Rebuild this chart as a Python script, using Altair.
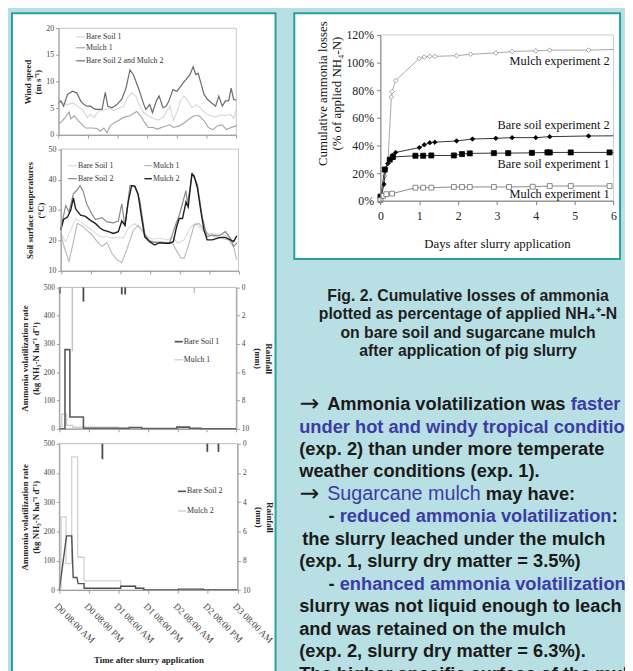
import json
import altair as alt
import pandas as pd

W, H = 625, 663
BG = "#b8dfe3"
TEAL = "#2b9f9f"
BLUE = "#3c3ca6"
INK = "#1a1a1a"
SERIF = "Liberation Serif"
SANS = "Liberation Sans"

# ---------------- data ----------------
HOUR_TICKS = [0, 12, 24, 36, 48, 60, 72]
TIME_LABELS = ["D0 08:00 AM", "D0 08:00 PM", "D1 08:00 AM", "D1 08:00 PM",
               "D2 08:00 AM", "D2 08:00 PM", "D3 08:00 AM"]

# wind speed (m/s) vs hours after application
wind_bs1_h = [0, 1.6, 3.6, 5.6, 7.6, 9.6, 11.6, 12.9, 14.3, 16.3, 18.3, 20.3, 22.3, 24.3, 26.3, 27.9, 29.6,
              31.3, 32.9, 34.5, 36.3, 38.3, 40.3, 42.3, 43.9, 45.2, 46.5, 48.3, 49.6, 50.9, 52.3, 54.0, 55.9,
              57.6, 59.6, 61.6, 63.6, 65.6, 67.6, 69.6, 70.9, 72]
wind_bs1_v = [6.4, 6.0, 5.7, 6.0, 5.4, 4.8, 3.3, 3.9, 3.3, 4.5, 4.6, 5.0, 4.6, 5.0, 5.4, 7.0, 7.9,
              7.3, 5.4, 4.2, 3.6, 3.1, 2.8, 3.3, 4.5, 5.4, 2.7, 4.8, 6.7, 7.3, 6.4, 5.1, 5.7,
              5.0, 4.0, 3.6, 3.4, 3.8, 3.6, 3.9, 3.1, 5.0]
wind_m1_h = [0, 1.6, 4.3, 4.9, 6.3, 7.9, 9.6, 10.9, 13.2, 15.6, 16.9, 18.3, 19.6, 20.9, 22.5, 24.3, 26.3,
             28.9, 31.6, 33.2, 34.9, 36.3, 38.3, 39.9, 42.3, 44.9, 46.5, 48.9, 50.9, 52.9, 54.9, 56.9,
             58.9, 60.7, 62.5, 64.3, 66.3, 67.9, 69.9, 72]
wind_m1_v = [2.0, 2.7, 4.3, 3.0, 3.6, 2.7, 1.9, 1.3, 1.3, 1.2, 0.7, 1.3, 0.4, 1.7, 2.3, 2.7, 3.3,
             3.6, 4.4, 3.6, 2.3, 1.4, 1.4, 1.1, 1.5, 1.9, 1.4, 1.7, 2.3, 3.0, 3.6, 3.6,
             2.7, 1.4, 1.0, 1.7, 1.9, 1.0, 1.4, 1.7]
wind_e2_h = [0, 0.9, 2.0, 3.6, 5.6, 7.3, 8.9, 10.3, 11.6, 12.9, 14.0, 14.9, 16.3, 17.6, 18.9, 19.9, 21.6,
             23.6, 25.6, 27.3, 28.9, 30.3, 32.3, 33.2, 34.3, 35.3, 36.9, 38.0, 39.6, 40.7, 42.3, 43.6,
             44.7, 46.3, 47.9, 48.9, 50.5, 51.6, 53.2, 54.5, 55.6, 56.5, 57.6, 58.9, 60.3, 62.0, 63.6,
             64.9, 66.3, 67.6, 68.9, 69.9, 70.9, 72]
wind_e2_v = [6.0, 6.4, 5.4, 7.6, 8.2, 7.9, 6.4, 5.7, 5.4, 5.4, 5.0, 4.8, 4.8, 4.8, 8.0, 5.4, 5.1,
             5.7, 6.7, 8.8, 12.2, 11.3, 8.8, 7.6, 6.0, 4.8, 5.7, 4.2, 6.4, 7.3, 5.1, 5.4,
             6.4, 8.5, 8.2, 8.8, 9.8, 10.4, 11.3, 12.8, 11.3, 11.6, 9.8, 7.6, 6.7, 6.0, 5.4,
             7.3, 5.4, 6.4, 6.4, 8.8, 6.7, 6.5]

# soil surface temperature (deg C)
temp_bs1_h = [0, 2.0, 4.0, 6.0, 8.0, 10.7, 13.3, 16.0, 18.7, 21.3, 23.3, 25.3, 27.3, 30.0, 32.0, 34.7, 37.3,
              40.0, 43.3, 45.3, 47.3, 50.0, 52.7, 54.7, 57.3, 60.0, 63.3, 66.7, 69.3, 71.3]
temp_bs1_v = [22.3, 19.6, 23.4, 27.2, 26.1, 24.5, 22.9, 21.2, 21.2, 20.7, 21.2, 20.7, 24.0, 25.6, 24.0, 21.2, 20.4,
              20.7, 20.2, 21.2, 19.1, 20.2, 24.5, 25.8, 23.2, 22.3, 22.1, 21.8, 20.2, 19.1]
temp_m1_h = [0, 1.3, 3.3, 5.3, 6.7, 8.7, 10.7, 12.7, 14.7, 16.7, 18.7, 20.7, 22.7, 24.7, 26.7, 29.3, 31.3,
             33.3, 35.3, 38.0, 40.7, 43.3, 45.3, 46.7, 48.7, 50.0, 52.0, 54.0, 56.0, 58.0, 60.0, 62.7,
             65.3, 68.0, 70.0, 71.3]
temp_m1_v = [22.3, 18.0, 13.1, 20.2, 25.6, 24.8, 23.2, 21.8, 19.6, 18.0, 19.3, 15.8, 13.7, 12.8, 16.9, 23.2, 25.0,
             22.9, 20.2, 19.6, 19.6, 19.3, 19.1, 16.9, 14.2, 14.2, 19.1, 25.0, 25.6, 23.4, 21.8, 21.2,
             20.7, 20.2, 18.0, 13.7]
temp_bs2_h = [0, 2.0, 3.3, 5.1, 6.5, 7.8, 9.0, 10.5, 12.5, 14.0, 16.7, 18.7, 21.3, 23.3, 24.7, 26.0, 28.0,
              30.0, 32.0, 34.0, 36.0, 40.0, 44.0, 46.7, 48.0, 50.7, 51.3, 53.3, 55.3, 57.3, 59.3, 61.3,
              64.0, 66.7, 68.7, 70.0, 71.3]
temp_bs2_v = [24.0, 31.5, 29.4, 35.3, 36.5, 38.0, 36.3, 32.0, 28.8, 26.9, 27.5, 26.1, 25.8, 26.4, 32.0, 24.5, 38.0,
              38.0, 33.2, 22.3, 19.6, 19.1, 19.1, 25.6, 28.3, 36.4, 32.0, 42.0, 38.5, 27.7, 21.2, 21.8,
              21.5, 22.9, 20.7, 18.0, 19.1]
temp_m2_h = [0, 1.1, 2.7, 4.0, 5.1, 6.0, 8.0, 10.0, 12.0, 14.0, 16.0, 17.3, 19.3, 21.3, 23.3, 24.7, 26.0,
             27.3, 28.7, 30.0, 31.3, 32.7, 34.0, 36.0, 38.0, 40.0, 42.0, 44.0, 45.6, 46.9, 48.0, 49.3,
             50.7, 51.6, 53.1, 54.0, 55.3, 56.7, 58.0, 59.3, 61.3, 63.3, 64.7, 66.7, 68.7, 70.0, 71.3]
temp_m2_v = [23.4, 26.9, 27.7, 29.9, 34.0, 30.4, 28.3, 27.9, 26.6, 25.6, 24.0, 23.4, 22.9, 22.3, 22.9, 26.4, 25.0,
             32.6, 38.0, 37.7, 35.3, 27.7, 21.2, 19.6, 18.5, 19.3, 19.1, 19.1, 19.6, 24.5, 27.2, 27.2,
             32.6, 31.0, 41.8, 41.2, 37.5, 29.9, 23.4, 20.2, 20.2, 20.7, 21.0, 21.0, 20.2, 19.6, 21.5]

# ammonia volatilization rate (kg NH3-N/ha/d), experiment 1 (step values)
e1_bs_h = [0, 2.3, 4.3, 9.8, 28.5, 33.5, 47.8, 53.0, 57.6, 72]
e1_bs_v = [0, 280, 42, 2, 5, 1, 6, 2, 0, 0]
e1_m_h = [0, 1.0, 3.0, 5.4, 24.0, 72]
e1_m_v = [8, 52, 12, 6, 0, 0]
# rainfall (mm), experiment 1
rain1_bs_h = [0.2, 9.8, 25.4, 26.8]
rain1_bs_v = [0.45, 1.0, 0.5, 0.5]
rain1_m_h = [5.3, 54.9]
rain1_m_v = [4.5, 0.4]

# experiment 2
e2_bs_h = [0, 2.9, 5.0, 5.6, 7.1, 7.6, 10.0, 10.0, 24.8, 24.8, 30.8, 30.8, 34.1, 34.1, 48.2, 48.2, 58.2, 58.2, 72]
e2_bs_v = [0, 185, 185, 43, 43, 22, 22, 6, 6, 13, 13, 6, 6, 0, 0, 3, 3, 0, 0]
e2_m_h = [0, 0.7, 2.7, 5.0, 7.4, 10.0, 24.8, 30.8, 34.1, 72]
e2_m_v = [0, 250, 90, 455, 112, 31, 13, 6, 0, 0]
rain2_h = [17.4, 59.8, 64.3]
rain2_v = [1.06, 0.56, 0.56]

# cumulative losses (fraction of applied NH4-N) vs days
cum_m2_d = [0, 0.11, 0.19, 0.28, 0.30, 0.39, 1.0, 1.13, 1.27, 1.4, 1.96, 2.32, 2.97, 3.39, 4.0, 4.36, 5.36, 6.0]
cum_m2_v = [0, 0.18, 0.27, 0.75, 0.79, 0.87, 1.03, 1.04, 1.045, 1.045, 1.05, 1.06, 1.07, 1.08, 1.085, 1.09, 1.09, 1.095]
cum_bs2_d = [0, 0.09, 0.13, 0.19, 0.24, 0.31, 0.39, 1.0, 1.13, 1.27, 1.4, 1.96, 2.37, 2.97, 3.39, 4.0, 4.36, 5.36, 6.0]
cum_bs2_v = [0, 0.12, 0.23, 0.27, 0.30, 0.33, 0.35, 0.385, 0.405, 0.42, 0.424, 0.433, 0.447, 0.452, 0.457, 0.457,
             0.464, 0.469, 0.47]
cum_bs1_d = [0, 0.11, 0.24, 0.32, 0.9, 1.1, 1.31, 1.89, 2.1, 2.3, 2.92, 3.29, 3.9, 4.3, 4.36, 4.9, 5.9, 6.0]
cum_bs1_v = [0.03, 0.226, 0.298, 0.317, 0.326, 0.326, 0.328, 0.328, 0.338, 0.343, 0.345, 0.345, 0.347, 0.35, 0.35,
             0.35, 0.35, 0.35]
cum_m1_d = [0, 0.07, 0.15, 0.3, 0.9, 1.1, 1.31, 1.89, 2.1, 2.3, 2.92, 3.31, 3.92, 4.36, 4.9, 5.9]
cum_m1_v = [0.005, 0.036, 0.048, 0.052, 0.095, 0.095, 0.095, 0.10, 0.10, 0.10, 0.10, 0.10, 0.102, 0.107, 0.107, 0.107]

caption_lines = ["Fig. 2. Cumulative losses of ammonia",
                 "plotted as percentage of applied NH\u2084\u207a-N",
                 "on bare soil and sugarcane mulch",
                 "after application of pig slurry"]

# text lines: (start x, [(segment, style)]) ; a = arrow, k = black bold, b = blue bold, r = blue regular
bullet_lines = [
    (295, [("\u2192", "a"), (" Ammonia volatilization was ", "k"), ("faster", "b")]),
    (295, [("under hot and windy tropical conditions", "b")]),
    (295, [("(exp. 2) than under more temperate", "k")]),
    (295, [("weather conditions (exp. 1).", "k")]),
    (295, [("\u2192", "a"), (" ", "k"), ("Sugarcane mulch", "r"), (" may have:", "k")]),
    (324.7, [("- ", "k"), ("reduced ammonia volatilization", "b"), (":", "k")]),
    (298, [("the slurry leached under the mulch", "k")]),
    (295, [("(exp. 1, slurry dry matter = 3.5%)", "k")]),
    (324.7, [("- ", "k"), ("enhanced ammonia volatilization", "b"), (":", "k")]),
    (295, [("slurry was not liquid enough to leach", "k")]),
    (295, [("and was retained on the mulch", "k")]),
    (295, [("(exp. 2, slurry dry matter = 6.3%).", "k")]),
    (295, [("The higher specific surface of the mulch", "k")]),
]

# ---------------- helpers ----------------
BOLDW = {' ': 278, '(': 333, ')': 333, ',': 278, '-': 333, '.': 278, ':': 333, '=': 584, '%': 889,
         'A': 722, 'S': 667, 'T': 611, 'a': 556, 'b': 611, 'c': 556, 'd': 611, 'e': 556, 'f': 333,
         'g': 611, 'h': 611, 'i': 278, 'j': 278, 'k': 556, 'l': 278, 'm': 889, 'n': 611, 'o': 611,
         'p': 611, 'q': 611, 'r': 389, 's': 556, 't': 333, 'u': 611, 'v': 556, 'w': 778, 'x': 556,
         'y': 556, 'z': 500, '\u2192': 1250}
REGW = {' ': 278, 'S': 667, 'u': 556, 'g': 556, 'a': 556, 'r': 333, 'c': 500, 'n': 556, 'e': 556,
        'm': 833, 'l': 222, 'h': 556}
BODY_SIZE = 18.5
SUGAR_SIZE = 20
LINE_STEP = 22.75


def text_w(s, table, size):
    return sum(table.get(ch, 556) for ch in s) * size / 1000.0


AX = dict(grid=False, zindex=1, domainColor="#9a9a9a", tickColor="#9a9a9a", labelFont=SERIF,
          labelColor="#444444", titleFont=SERIF, titleColor="#222222", titleFontWeight="bold",
          titleFontSize=9, labelFlush=False, labelOverlap=False)


class Panel:
    def __init__(self, xdom, xrng, ydom, yrng, xaxis, yaxis, xtitle=None, ytitle=None):
        self.xdom, self.ydom = xdom, ydom
        self.xs = alt.Scale(domain=xdom, range=xrng, nice=False, zero=False)
        self.ys = alt.Scale(domain=ydom, range=yrng, nice=False, zero=False)
        self.xaxis, self.yaxis = xaxis, yaxis
        self.xtitle, self.ytitle = xtitle, ytitle

    def X(self, f):
        return alt.X(f"{f}:Q", scale=self.xs, axis=self.xaxis, title=self.xtitle)

    def Y(self, f):
        return alt.Y(f"{f}:Q", scale=self.ys, axis=self.yaxis, title=self.ytitle)

    def frame(self, stroke="#b8b8b8"):
        d = pd.DataFrame({"x0": [self.xdom[0]], "x1": [self.xdom[1]],
                          "y0": [self.ydom[0]], "y1": [self.ydom[1]]})
        return alt.Chart(d).mark_rect(fill="white", stroke=stroke, strokeWidth=0.8).encode(
            x=self.X("x0"), x2="x1", y=self.Y("y0"), y2="y1")

    def line(self, h, v, color, width, interp="linear"):
        d = pd.DataFrame({"h": h, "v": v})
        return alt.Chart(d).mark_line(color=color, strokeWidth=width, interpolate=interp).encode(
            x=self.X("h"), y=self.Y("v"))

    def legend(self, entries, fs=8):
        d = pd.DataFrame(entries, columns=["label", "color", "w", "x1", "x2", "y"])
        d["xt"] = d["x2"] + (self.xdom[1] - self.xdom[0]) * 0.006
        rules = alt.Chart(d).mark_rule().encode(
            x=self.X("x1"), x2="x2", y=self.Y("y"),
            color=alt.Color("color:N", scale=None), strokeWidth=alt.StrokeWidth("w:Q", scale=None))
        texts = alt.Chart(d).mark_text(align="left", baseline="middle", font=SERIF, fontSize=fs,
                                       color="#333333").encode(
            x=self.X("xt"), y=self.Y("y"), text="label:N")
        return rules + texts


def xaxis_plain(ypix):
    return alt.Axis(orient="bottom", offset=ypix - H, values=HOUR_TICKS, labels=False, tickSize=3, **AX)


def yaxis_left(xpix, values, fs=8):
    return alt.Axis(orient="left", offset=-xpix, values=values, tickSize=3, labelFontSize=fs,
                    labelPadding=2, titlePadding=3, **AX)


def rain_axis(xpix):
    return alt.Axis(orient="right", offset=xpix - W, values=[0, 2, 4, 6, 8, 10], tickSize=3,
                    labelFontSize=7.5, labelPadding=2, titlePadding=4, **AX)


# ---------------- panels ----------------
WIND_X, WIND_Y = [51.3, 231.3], [124.3, 16.3]
TEMP_X, TEMP_Y = [53.5, 233.5], [262.0, 138.7]
E1_X, E1_Y = [52.0, 231.3], [422.0, 278.7]
E2_X, E2_Y = [52.0, 232.5], [585.3, 437.0]
CUM_X, CUM_Y = [377.3, 613.3], [191.0, 23.0]

wind = Panel([0, 72], WIND_X, [0, 20], WIND_Y, xaxis_plain(WIND_Y[0]),
             yaxis_left(WIND_X[0], [0, 5, 10, 15, 20]), None, ["Wind speed", "(m s\u207b\u00b9)"])
wind_layer = alt.layer(
    wind.frame(),
    wind.line(wind_bs1_h, wind_bs1_v, "#d6d6d6", 1.1),
    wind.line(wind_m1_h, wind_m1_v, "#a3a3a3", 1.1),
    wind.line(wind_e2_h, wind_e2_v, "#6a6a6a", 1.2),
    wind.legend([("Bare Soil 1", "#d6d6d6", 1.2, 7.1, 10.7, 18.4),
                 ("Mulch 1", "#a3a3a3", 1.2, 7.1, 10.7, 16.35),
                 ("Bare Soil 2 and Mulch 2", "#6a6a6a", 1.2, 7.1, 10.7, 13.9)]),
)

temp = Panel([0, 72], TEMP_X, [10, 50], TEMP_Y, xaxis_plain(TEMP_Y[0]),
             yaxis_left(TEMP_X[0], [10, 20, 30, 40, 50]), None,
             ["Soil surface temperatures", "(\u00b0C)"])
temp_layer = alt.layer(
    temp.frame(),
    temp.line(temp_bs1_h, temp_bs1_v, "#dcdcdc", 1.1),
    temp.line(temp_m1_h, temp_m1_v, "#b8b8b8", 1.1),
    temp.line(temp_bs2_h, temp_bs2_v, "#8a8a8a", 1.2),
    temp.line(temp_m2_h, temp_m2_v, "#1e1e1e", 1.4),
    temp.legend([("Bare Soil 1", "#dcdcdc", 1.2, 2.9, 6.5, 44.6),
                 ("Bare Soil 2", "#8a8a8a", 1.2, 2.9, 6.5, 40.3),
                 ("Mulch 1", "#b8b8b8", 1.2, 33.9, 36.9, 44.6),
                 ("Mulch 2", "#1e1e1e", 1.4, 33.9, 36.9, 40.3)]),
)

NH3_TITLE = ["Ammonia volatilization rate", "(kg NH\u2083-N ha\u207b\u00b9 d\u207b\u00b9)"]

e1 = Panel([0, 72], E1_X, [0, 500], E1_Y, xaxis_plain(E1_Y[0]),
           yaxis_left(E1_X[0], [0, 100, 200, 300, 400, 500], 7.5), None, NH3_TITLE)
e1_layer = alt.layer(
    e1.frame("#a8a8a8"),
    e1.line(e1_m_h, e1_m_v, "#c8c8c8", 1.2, "step-after"),
    e1.line(e1_bs_h, e1_bs_v, "#5a5a5a", 1.6, "step-after"),
    e1.legend([("Bare Soil 1", "#5a5a5a", 1.8, 46.9, 50.2, 308),
               ("Mulch 1", "#c8c8c8", 1.2, 46.9, 50.2, 244)]),
)
r1 = Panel([0, 72], E1_X, [0, 10], [E1_Y[1], E1_Y[0]], None, rain_axis(E1_X[1]), None, ["Rainfall", "(mm)"])
r1_df_bs = pd.DataFrame({"h": rain1_bs_h, "r": rain1_bs_v, "r0": 0})
r1_df_m = pd.DataFrame({"h": rain1_m_h, "r": rain1_m_v, "r0": 0})
r1_layer = alt.layer(
    alt.Chart(r1_df_m).mark_rule(color="#c4c4c4", strokeWidth=1.5).encode(x=r1.X("h"), y=r1.Y("r"), y2="r0"),
    alt.Chart(r1_df_bs).mark_rule(color="#4a4a4a", strokeWidth=1.8).encode(x=r1.X("h"), y=r1.Y("r"), y2="r0"),
)

label_expr = json.dumps(TIME_LABELS) + "[round(datum.value / 12)]"
e2_xaxis = alt.Axis(orient="bottom", offset=E2_Y[0] - H, values=HOUR_TICKS, tickSize=3, labelExpr=label_expr,
                    labelAngle=45, labelAlign="left", labelBaseline="top", labelFontSize=9.5, labelPadding=8,
                    titlePadding=11, **AX)
e2 = Panel([0, 72], E2_X, [0, 500], E2_Y, e2_xaxis,
           yaxis_left(E2_X[0], [0, 100, 200, 300, 400, 500], 7.5), "Time after slurry application", NH3_TITLE)
e2_layer = alt.layer(
    e2.frame("#a8a8a8"),
    e2.line(e2_m_h, e2_m_v, "#d2d2d2", 1.3, "step-after"),
    e2.line(e2_bs_h, e2_bs_v, "#4f4f4f", 1.4),
    e2.legend([("Bare Soil 2", "#4f4f4f", 1.6, 47.9, 51.2, 337),
               ("Mulch 2", "#d2d2d2", 1.4, 47.9, 51.2, 270)]),
)
r2 = Panel([0, 72], E2_X, [0, 10], [E2_Y[1], E2_Y[0]], None, rain_axis(E2_X[1]), None, ["Rainfall", "(mm)"])
r2_df = pd.DataFrame({"h": rain2_h, "r": rain2_v, "r0": 0})
r2_layer = alt.Chart(r2_df).mark_rule(color="#4a4a4a", strokeWidth=1.8).encode(x=r2.X("h"), y=r2.Y("r"), y2="r0")

# cumulative chart
CAX = dict(AX)
CAX.update(labelColor="#222222", labelFontSize=12, titleFontWeight="normal", titleFontSize=13,
           titleColor="#111111", domainColor="#808080", tickColor="#808080")
cum_y_axis = alt.Axis(orient="left", offset=-CUM_X[0], values=[0, 0.2, 0.4, 0.6, 0.8, 1.0, 1.2], format=".0%",
                      tickSize=4, labelPadding=3, titlePadding=2, titleY=82, **CAX)
cum_x_axis = alt.Axis(orient="bottom", offset=CUM_Y[0] - H, values=[0, 1, 2, 3, 4, 5, 6], tickSize=4,
                      labelPadding=6, titlePadding=16, **CAX)
cum = Panel([0, 6], CUM_X, [0, 1.2], CUM_Y, cum_x_axis, cum_y_axis, "Days after slurry application",
            ["Cumulative ammonia losses", "(% of applied NH\u2084-N)"])


def cum_series(d, v, line_color, shape, fill, stroke, size, marked):
    df = pd.DataFrame({"h": d, "v": v, "m": marked})
    ln = alt.Chart(df).mark_line(color=line_color, strokeWidth=1).encode(x=cum.X("h"), y=cum.Y("v"))
    pts = alt.Chart(df).transform_filter("datum.m").mark_point(
        shape=shape, filled=True, fill=fill, stroke=stroke, strokeWidth=0.8, size=size, opacity=1).encode(
        x=cum.X("h"), y=cum.Y("v"))
    return ln + pts


cum_labels = pd.DataFrame({
    "h": [5.9, 5.9, 5.9, 5.9],
    "v": [1.014, 0.55, 0.264, 0.05],
    "t": ["Mulch experiment 2", "Bare soil experiment 2", "Bare soil experiment 1", "Mulch experiment 1"]})
cum_layer = alt.layer(
    cum.frame("#c0c0c0"),
    cum_series(cum_m2_d, cum_m2_v, "#a8a8a8", "diamond", "white", "#8a8a8a", 22,
               [True] * (len(cum_m2_d) - 1) + [False]),
    cum_series(cum_bs2_d, cum_bs2_v, "#333333", "diamond", "#000000", "#000000", 20,
               [True] * (len(cum_bs2_d) - 1) + [False]),
    cum_series(cum_bs1_d, cum_bs1_v, "#333333", "square", "#000000", "#000000", 26,
               [True] * (len(cum_bs1_d) - 1) + [False]),
    cum_series(cum_m1_d, cum_m1_v, "#8a8a8a", "square", "white", "#6a6a6a", 24, [True] * len(cum_m1_d)),
    alt.Chart(cum_labels).mark_text(align="right", baseline="middle", font=SERIF, fontSize=12.5,
                                    color="#111111").encode(x=cum.X("h"), y=cum.Y("v"), text="t:N"),
)

# ---------------- background panels and text ----------------
boxes = pd.DataFrame({"x": [4, 290], "x2": [271, 620], "y": [1, 1], "y2": [700, 250]})
box_layer = alt.Chart(boxes).mark_rect(fill="white", stroke=TEAL, strokeWidth=2).encode(
    x=alt.X("x:Q", scale=None, axis=None), x2="x2",
    y=alt.Y("y:Q", scale=None, axis=None), y2="y2")

cap_df = pd.DataFrame({"t": caption_lines, "x": 466, "y": [287.0, 305.5, 325.3, 343.7]})
cap_layer = alt.Chart(cap_df).mark_text(align="center", baseline="middle", font=SANS, fontSize=16,
                                        fontWeight="bold", color="#1e1e1e").encode(
    x=alt.X("x:Q", scale=None, axis=None), y=alt.Y("y:Q", scale=None, axis=None), text="t:N")

rows = []
for i, (x0, segs) in enumerate(bullet_lines):
    x = x0
    y = 397 + i * LINE_STEP
    for s, style in segs:
        table, size = (REGW, SUGAR_SIZE) if style == "r" else (BOLDW, BODY_SIZE)
        lead = len(s) - len(s.lstrip(" "))
        x += text_w(" " * lead, table, size)
        body = s.lstrip(" ")
        if body:
            rows.append({"t": body, "x": x, "y": y,
                         "c": BLUE if style in ("b", "r") else INK, "st": style})
        x += text_w(body, table, size)
seg_df = pd.DataFrame(rows)


def seg_layer(styles, font, size, weight):
    return alt.Chart(seg_df[seg_df.st.isin(styles)]).mark_text(
        align="left", baseline="middle", font=font, fontSize=size, fontWeight=weight).encode(
        x=alt.X("x:Q", scale=None, axis=None), y=alt.Y("y:Q", scale=None, axis=None), text="t:N",
        color=alt.Color("c:N", scale=None))


bold_layer = seg_layer(["k", "b"], SANS, BODY_SIZE, "bold")
reg_layer = seg_layer(["r"], SANS, SUGAR_SIZE, "normal")
arrow_layer = seg_layer(["a"], "DejaVu Sans", 24, "normal")

chart = alt.layer(
    box_layer, wind_layer, temp_layer, e1_layer, r1_layer, e2_layer, r2_layer, cum_layer,
    cap_layer, bold_layer, reg_layer, arrow_layer,
).resolve_scale(x="independent", y="independent").resolve_axis(x="independent", y="independent").properties(
    width=W, height=H, padding=0, autosize=alt.AutoSizeParams(type="none"), background=BG
).configure_view(strokeWidth=0)

chart.save("out.html", embed_options={"renderer": "svg", "actions": False})
